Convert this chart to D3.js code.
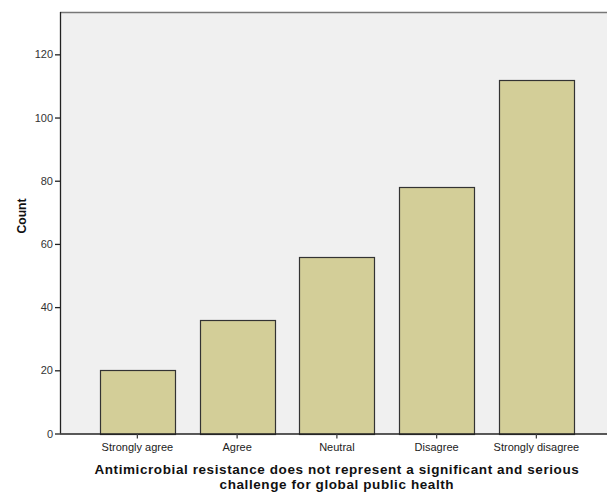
<!DOCTYPE html>
<html><head><meta charset="utf-8">
<script src="https://cdn.jsdelivr.net/npm/d3@7"></script>
<style>body{margin:0;background:#fff;} svg{display:block;}</style>
</head><body>
<svg id="c" width="607" height="493"></svg>
<script>
const categories = ["Strongly agree","Agree","Neutral","Disagree","Strongly disagree"];
const counts = [20,36,56,78,112];
const yTicks = [0,20,40,60,80,100,120];
const xTitleLines = ["Antimicrobial resistance does not represent a significant and serious","challenge for global public health"];
const yTitle = "Count";

(function(){
const svg = d3.select("#c");
const pL = 60, pR = 607, pT = 12, pB = 433.5;
const y = d3.scaleLinear().domain([0,133.4]).range([pB, pT]);
const x = d3.scaleBand().domain(categories).range([87.5,586.25]).paddingInner(0.25).paddingOuter(0.125);

svg.append("rect").attr("x",pL).attr("y",pT).attr("width",pR-pL).attr("height",pB-pT).attr("fill","#f0f0f0");
svg.append("line").attr("x1",pL).attr("x2",pR).attr("y1",pT+0.5).attr("y2",pT+0.5).attr("stroke","#777").attr("stroke-width",1.5);

svg.selectAll("rect.bar").data(counts).enter().append("rect").attr("class","bar")
  .attr("x",(d,i)=>Math.round(x(categories[i]))+0.5)
  .attr("y",d=>Math.round(y(d))+0.5)
  .attr("width",Math.round(x.bandwidth()))
  .attr("height",d=>Math.round(y(0))-Math.round(y(d)))
  .attr("fill","#d3ce98").attr("stroke","#333").attr("stroke-width",1.2);

const ya = svg.append("g").attr("transform",`translate(${pL},0)`)
  .call(d3.axisLeft(y).tickValues(yTicks).tickSize(5).tickPadding(2).tickSizeOuter(0));
ya.select(".domain").attr("stroke","#222").attr("stroke-width",1.3).attr("d",`M0.5,${pT}V${pB}`);
ya.selectAll(".tick line").attr("stroke","#222").attr("stroke-width",1.3);
ya.selectAll(".tick text").attr("font-family","Arial, 'Liberation Sans', sans-serif").attr("font-size",11).attr("fill","#333");

const xa = svg.append("g").attr("transform",`translate(0,${pB})`)
  .call(d3.axisBottom(x).tickSize(5).tickPadding(5).tickSizeOuter(0));
xa.select(".domain").attr("stroke","#222").attr("stroke-width",1.5).attr("d",`M${pL},0.5H${pR}`);
xa.selectAll(".tick line").attr("stroke","#444").attr("stroke-width",1.3);
xa.selectAll(".tick text").attr("font-family","Arial, 'Liberation Sans', sans-serif").attr("font-size",11).attr("fill","#222");

const cx = (87.5+586.25)/2;
xTitleLines.forEach((line,i)=>{
  const t = svg.append("text").attr("text-anchor","middle").attr("x",cx).attr("y",i?489:474)
    .attr("font-family","Arial, 'Liberation Sans', sans-serif").attr("font-weight","bold").attr("font-size",13.5).attr("fill","#111").text(line);
  if (i===0) {
    const w = t.node().getComputedTextLength();
    window.__ls = (485-w)/line.length;
  }
  t.attr("letter-spacing", Math.max(0, window.__ls).toFixed(3));
});

const ct = svg.append("text").attr("text-anchor","middle")
  .attr("font-family","Arial, 'Liberation Sans', sans-serif").attr("font-weight","bold").attr("font-size",13).attr("fill","#111").text(yTitle);
const cw = ct.node().getComputedTextLength();
ct.attr("font-size",13*35/cw).attr("transform",`translate(26,216) rotate(-90)`);
})();
</script>
</body></html>
